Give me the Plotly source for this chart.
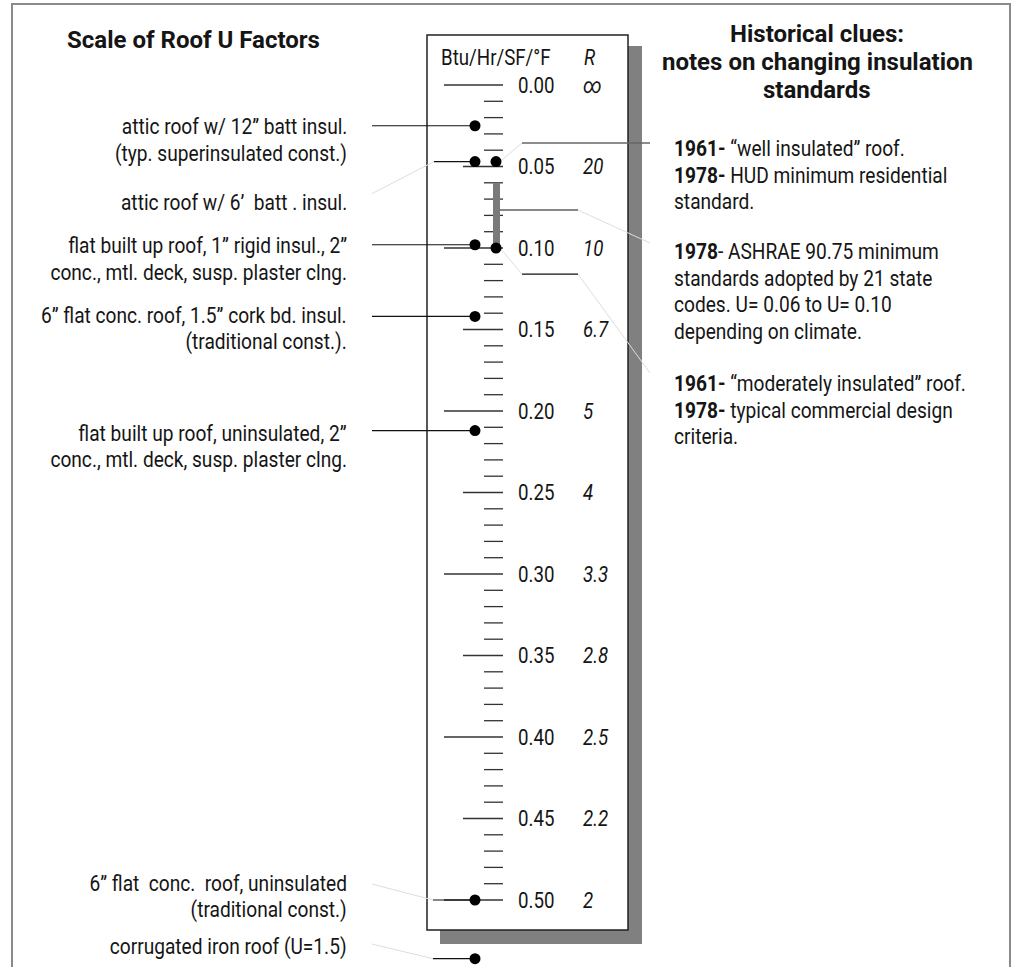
import plotly.graph_objects as go

# ---- data ----
major_u = [0.00, 0.05, 0.10, 0.15, 0.20, 0.25, 0.30, 0.35, 0.40, 0.45, 0.50]
u_labels = ["0.00", "0.05", "0.10", "0.15", "0.20", "0.25", "0.30", "0.35", "0.40", "0.45", "0.50"]
r_labels = ["∞", "20", "10", "6.7", "5", "4", "3.3", "2.8", "2.5", "2.2", "2"]

roof_names = [
    ["attic roof w/ 12” batt insul.", "(typ. superinsulated const.)"],
    ["attic roof w/ 6’  batt . insul."],
    ["flat built up roof, 1” rigid insul., 2”", "conc., mtl. deck, susp. plaster clng."],
    ["6” flat conc. roof, 1.5” cork bd. insul.", "(traditional const.)."],
    ["flat built up roof, uninsulated, 2”", "conc., mtl. deck, susp. plaster clng."],
    ["6” flat  conc.  roof, uninsulated", "(traditional const.)"],
    ["corrugated iron roof (U=1.5)"],
]
# last one (U=1.5) is off the scale, drawn just below it
roof_u = [0.025, 0.047, 0.098, 0.142, 0.212, 0.500, 0.536]

standard_u = [0.047, 0.100]      # 1961 / 1978 reference points
ashrae_u = [0.06, 0.10]          # ASHRAE 90.75 range
pointer_u = [0.0356, 0.0767, 0.116]

notes = [
    ["<b>1961-</b> “well insulated” roof.", "<b>1978-</b> HUD minimum residential", "standard."],
    ["<b>1978</b>- ASHRAE 90.75 minimum", "standards adopted by 21 state",
     "codes. U= 0.06 to U= 0.10", "depending on climate."],
    ["<b>1961-</b> “moderately insulated” roof.", "<b>1978-</b> typical commercial design", "criteria."],
]

# ---- layout helpers (pixel -> U) ----
Y0, K = 85.0, 1630.0
def Y(py):
    return (py - Y0) / K
def P(u):
    return Y0 + K * u

FONT = "Roboto, Liberation Sans, sans-serif"
BODY = 22.5
SCALE = 22
TITLE = 24
INK = "#151515"

fig = go.Figure()

# faint connector lines
faint = [
    ((372, Y(P(roof_u[1]) + 32)), (434, roof_u[1])),
    ((372, Y(884)), (433, roof_u[5])),
    ((372, Y(944)), (433, roof_u[6])),
    ((522, pointer_u[0]), (500, standard_u[0])),
    ((578, pointer_u[1]), (650, Y(243))),
    ((500, standard_u[1]), (522, pointer_u[2])),
    ((578, pointer_u[2]), (650, Y(373))),
]
fx, fy = [], []
for (a, b) in faint:
    fx += [a[0], b[0], None]
    fy += [a[1], b[1], None]
fig.add_trace(go.Scatter(x=fx, y=fy, mode="lines", line=dict(color="#dedede", width=1),
                         hoverinfo="skip", showlegend=False))

# ticks
tx, ty = [], []
for i in range(51):
    u = i / 100
    if i % 10 == 0:
        x0 = 444
    elif i % 5 == 0:
        x0 = 463
    else:
        x0 = 484
    tx += [x0, 503, None]
    ty += [u, u, None]
fig.add_trace(go.Scatter(x=tx, y=ty, mode="lines", line=dict(color="#333", width=1.3),
                         hoverinfo="skip", showlegend=False))

# leader lines from labels to dots
lx, ly = [], []
starts = [372, 434, 372, 372, 372, 433, 433]
for s, u in zip(starts, roof_u):
    lx += [s, 475, None]
    ly += [u, u, None]
fig.add_trace(go.Scatter(x=lx, y=ly, mode="lines", line=dict(color="#111", width=1.2),
                         hoverinfo="skip", showlegend=False))

# pointer lines to the notes
fig.add_trace(go.Scatter(x=[522, 650], y=[pointer_u[0]] * 2, mode="lines",
                         line=dict(color="#666", width=1.5), hoverinfo="skip", showlegend=False))
fig.add_trace(go.Scatter(x=[495, 578, None, 522, 578],
                         y=[pointer_u[1], pointer_u[1], None, pointer_u[2], pointer_u[2]],
                         mode="lines", line=dict(color="#111", width=1.2),
                         hoverinfo="skip", showlegend=False))

# ASHRAE bar
fig.add_trace(go.Scatter(x=[496.5, 496.5], y=ashrae_u, mode="lines",
                         line=dict(color="#7a7a7a", width=7), hoverinfo="skip", showlegend=False))

# dots
fig.add_trace(go.Scatter(x=[475] * len(roof_u), y=roof_u, mode="markers",
                         marker=dict(color="black", size=11, line=dict(width=0)),
                         hoverinfo="skip", showlegend=False))
fig.add_trace(go.Scatter(x=[496] * len(standard_u), y=standard_u, mode="markers",
                         marker=dict(color="black", size=11, line=dict(width=0)),
                         hoverinfo="skip", showlegend=False))

# shapes: outer frame, shadow, scale box
fig.add_shape(type="rect", x0=12, x1=1010, y0=Y(4), y1=Y(990), xref="x", yref="y",
              line=dict(color="#8a8a8a", width=2), fillcolor="rgba(0,0,0,0)", layer="below")
fig.add_shape(type="rect", x0=440, x1=642, y0=Y(46), y1=Y(944), xref="x", yref="y",
              line=dict(width=0), fillcolor="#808080", layer="below")
fig.add_shape(type="rect", x0=427, x1=628, y0=Y(35), y1=Y(930), xref="x", yref="y",
              line=dict(color="#222", width=1.5), fillcolor="white", layer="below")

ann = []
def txt(x, y, s, anchor="left", size=BODY):
    ann.append(dict(x=x, y=y, xref="x", yref="y", text=s, showarrow=False,
                    xanchor=anchor, yanchor="middle",
                    font=dict(family=FONT, size=size, color=INK)))

# titles
txt(193, Y(40), "<b>Scale of Roof U Factors</b>", anchor="center", size=TITLE)
for s, py in zip(["Historical clues:", "notes on changing insulation", "standards"], [34, 62, 90]):
    txt(817, Y(py), "<b>" + s + "</b>", anchor="center", size=TITLE)

# scale header and labels
txt(439, Y(57), "Btu/Hr/SF/°F", size=SCALE)
txt(582, Y(57), "<i>R</i>", size=SCALE)
for u, a, r in zip(major_u, u_labels, r_labels):
    txt(516, u, a, size=SCALE)
    txt(581, u, "<i>" + r + "</i>", size=SCALE)

# roof type labels (first line level with its leader)
label_py = [P(roof_u[0]), P(roof_u[1]) + 40, P(roof_u[2]), P(roof_u[3]) - 1,
            P(roof_u[4]) + 2, 883, 946]
pitch = [28, 26, 27, 26, 26, 26, 0]
for lines, py, dp in zip(roof_names, label_py, pitch):
    for k, s in enumerate(lines):
        txt(349, Y(py + dp * k), s, anchor="right")

# notes
note_py = [148, 251, 383]
for block, py in zip(notes, note_py):
    for k, s in enumerate(block):
        txt(672, Y(py + 26.5 * k), s)

fig.update_layout(
    width=1012, height=967,
    margin=dict(l=0, r=0, t=0, b=0),
    paper_bgcolor="white", plot_bgcolor="white",
    xaxis=dict(range=[0, 1012], visible=False, fixedrange=True),
    yaxis=dict(range=[Y(967), Y(0)], visible=False, fixedrange=True),
    annotations=ann,
    showlegend=False,
)

# narrow the regular text horizontally (the original uses a condensed face)
condense = """
document.body.style.margin = '0';
var gd = document.getElementById('{plot_id}');
var anns = gd.layout.annotations;
gd.querySelectorAll('g.annotation').forEach(function (g) {
  var a = anns[+g.getAttribute('data-index')];
  if (!a || a.font.size >= 24) return;
  var t = g.querySelector('text.annotation-text');
  if (!t) return;
  var b = t.getBBox();
  var p = a.xanchor === 'right' ? b.x + b.width : (a.xanchor === 'center' ? b.x + b.width / 2 : b.x);
  t.setAttribute('transform', 'translate(' + p + ',0) scale(0.85,1) translate(' + (-p) + ',0)');
});
"""

fig.write_html("out.html", config={"displayModeBar": False}, post_script=condense)
